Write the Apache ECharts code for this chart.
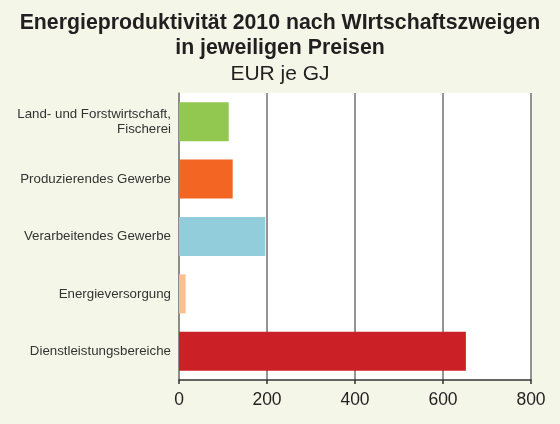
<!DOCTYPE html>
<html>
<head>
<meta charset="utf-8">
<script src="https://cdn.jsdelivr.net/npm/echarts@6/dist/echarts.min.js"></script>
<style>
html,body{margin:0;padding:0;background:#f4f7e8;}
#c{width:560px;height:424px;}
</style>
</head>
<body>
<div id="c"></div>
<script>
const categories = ["Land- und Forstwirtschaft,\nFischerei", "Produzierendes Gewerbe", "Verarbeitendes Gewerbe", "Energieversorgung", "Dienstleistungsbereiche"];
const values = [113, 122, 196, 15, 652];
const barColors = ["#92c850", "#f26522", "#92cddc", "#f9c08f", "#cc2027"];
const xTicks = [0, 200, 400, 600, 800];
const titleLines = ['Energieproduktivität 2010 nach WIrtschaftszweigen', 'in jeweiligen Preisen'];
const unitText = 'EUR je GJ';

const boldStyle = {fontFamily: 'Liberation Sans', fontSize: 21.3, fontWeight: 'bold', color: '#231f20'};
const chart = echarts.init(document.getElementById('c'));
chart.setOption({
  backgroundColor: '#f4f7e8',
  animation: false,
  title: [
    {text: titleLines[0], left: 'center', top: 13, padding: 0, textStyle: boldStyle},
    {text: titleLines[1], left: 'center', top: 38, padding: 0, textStyle: boldStyle},
    {text: unitText, left: 'center', top: 64, padding: 0,
     textStyle: {fontFamily: 'Liberation Sans', fontSize: 21, fontWeight: 'normal', color: '#231f20'}}
  ],
  grid: {left: 179, right: 29, top: 93, bottom: 44, show: true, backgroundColor: '#ffffff', borderWidth: 0, containLabel: false},
  xAxis: {
    type: 'value', min: xTicks[0], max: xTicks[xTicks.length - 1], interval: 200,
    axisLine: {show: true, lineStyle: {color: '#333', width: 1.5}},
    axisTick: {show: true, length: 4, lineStyle: {color: '#333', width: 1.5}},
    axisLabel: {fontFamily: 'Liberation Sans', fontSize: 17.5, color: '#231f20', margin: 11},
    splitLine: {show: true, lineStyle: {color: '#707070', width: 1.5}}
  },
  yAxis: {
    type: 'category', data: categories, inverse: true,
    axisLine: {show: true, lineStyle: {color: '#888', width: 1.5}},
    axisTick: {show: false},
    axisLabel: {fontFamily: 'Liberation Sans', fontSize: 13.3, color: '#333', margin: 8, lineHeight: 14.5, align: 'right'}
  },
  series: [{
    type: 'bar',
    data: values.map((v, i) => ({value: v, itemStyle: {color: barColors[i]}})),
    barCategoryGap: '32%'
  }]
});
</script>
</body>
</html>
